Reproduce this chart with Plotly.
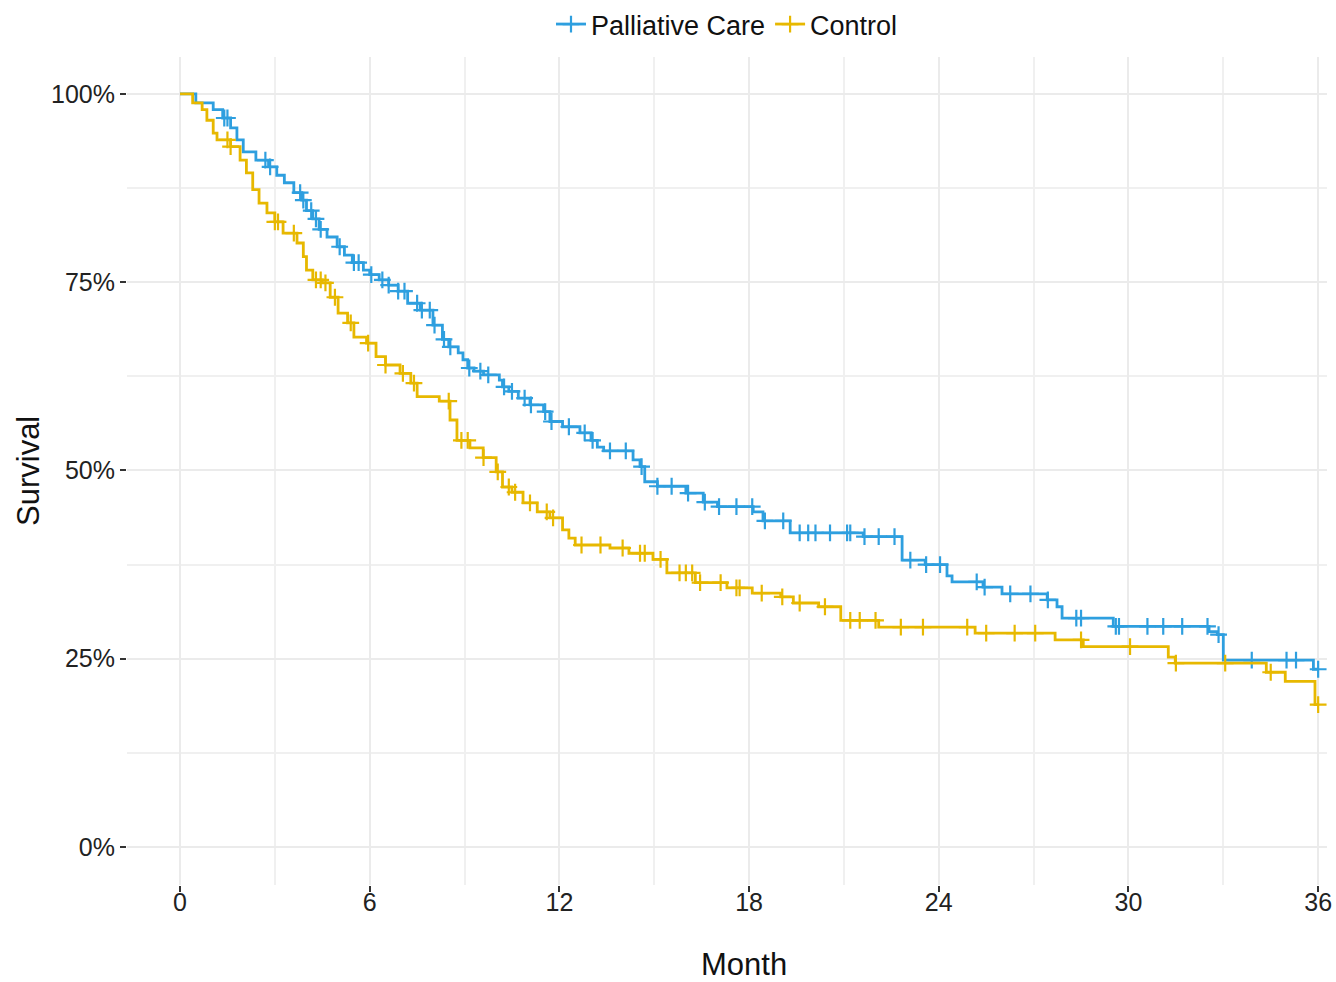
import plotly.graph_objects as go

# ---------------- data ----------------
groups = ["Palliative Care", "Control"]
colors = ["#2E9FDF", "#E7B800"]
t_end = 36.0

pc_time = [0, 0.5, 1.05, 1.35, 1.6, 1.8, 2.0, 2.4, 2.8, 3.06, 3.3, 3.6, 3.85, 4.0, 4.2,
           4.4, 4.65, 4.97, 5.2, 5.45, 5.8, 6.0, 6.3, 6.6, 6.9, 7.2, 7.6, 8.0, 8.3, 8.5,
           8.8, 8.95, 9.1, 9.3, 9.6, 10.1, 10.2, 10.4, 10.7, 11.07, 11.5, 11.7, 12.1, 12.65,
           13.0, 13.2, 13.4, 14.33, 14.55, 14.7, 15.1, 16.0, 16.55, 17.0, 18.13, 18.44,
           19.3, 21.61, 22.84, 23.57, 24.26, 24.42, 25.4, 26.0, 27.43, 27.74, 27.9, 29.52,
           32.55, 32.81, 33.0, 35.85]
pc_surv = [100, 98.8, 97.9, 96.8, 95.5, 93.9, 92.3, 91.2, 90.3, 89.2, 88.2, 86.9, 85.9, 84.5, 83.4,
           82.0, 81.0, 79.7, 78.6, 77.6, 76.6, 76.0, 75.3, 74.6, 73.8, 72.2, 71.3, 69.3, 67.4, 66.4,
           65.6, 64.7, 63.6, 63.2, 62.7, 62.0, 61.1, 60.5, 59.6, 58.7, 57.8, 56.5, 55.8, 55.0,
           54.0, 53.1, 52.6, 51.4, 50.5, 48.5, 47.9, 47.0, 45.8, 45.2, 44.5, 43.3,
           41.7, 41.2, 38.1, 37.5, 36.0, 35.2, 34.5, 33.6, 32.8, 31.9, 30.4, 29.3,
           28.6, 28.2, 24.8, 23.6]
pc_censor = [1.4, 1.5, 2.7, 2.85, 3.8, 3.9, 4.15, 4.3, 4.45, 5.05, 5.5, 5.65, 6.05, 6.4, 6.6,
             6.9, 7.1, 7.5, 7.65, 7.9, 8.05, 8.35, 8.55, 9.15, 9.5, 9.75, 10.25, 10.5, 10.9,
             11.1, 11.55, 11.75, 12.3, 12.8, 13.05, 13.6, 14.1, 14.6, 15.1, 15.55, 16.07,
             16.6, 17.05, 17.6, 18.1, 18.5, 19.08, 19.6, 19.87, 20.1, 20.56, 21.1, 21.2, 21.65,
             22.1, 22.6, 23.1, 23.6, 24.04, 25.2, 25.45, 26.26, 26.9, 27.45, 28.35, 28.5,
             29.6, 29.7, 30.6, 31.1, 31.7, 32.5, 32.85, 33.9, 35.0, 35.3, 36.0]

ct_time = [0, 0.4, 0.7, 0.85, 1.05, 1.17, 1.6, 1.9, 2.1, 2.3, 2.5, 2.75, 3.0, 3.26, 3.7,
           3.9, 4.0, 4.2, 4.5, 4.75, 5.0, 5.3, 5.5, 5.9, 6.2, 6.5, 6.96, 7.3, 7.5, 8.2,
           8.54, 8.76, 9.17, 9.59, 10.0, 10.2, 10.5, 10.85, 11.3, 11.7, 12.1, 12.3, 12.5,
           13.6, 14.2, 14.96, 15.4, 16.3, 17.3, 18.1, 19.0, 19.4, 20.2, 20.9, 22.1, 25.15,
           27.68, 28.57, 31.26, 31.48, 34.36, 34.96, 35.9]
ct_surv = [100, 98.8, 97.9, 96.5, 94.8, 93.9, 93.0, 91.2, 89.5, 87.3, 85.5, 84.2, 83.0, 81.5, 80.2,
           78.4, 76.6, 75.3, 74.9, 73.0, 70.9, 69.6, 67.7, 66.9, 65.1, 64.0, 62.9, 61.6, 59.8, 59.2,
           56.7, 54.0, 53.0, 51.7, 49.8, 47.8, 47.1, 45.7, 44.5, 43.7, 42.1, 41.0, 40.1,
           39.7, 39.0, 38.2, 36.4, 35.1, 34.4, 33.7, 33.2, 32.4, 31.9, 30.1, 29.2, 28.4,
           27.5, 26.6, 25.2, 24.4, 23.2, 22.0, 18.9]
ct_censor = [1.5, 1.6, 3.0, 3.1, 3.6, 4.3, 4.45, 4.6, 4.9, 5.4, 5.95, 6.5, 7.05, 7.4, 8.5,
             8.9, 9.1, 9.6, 10.05, 10.4, 10.6, 11.07, 11.6, 11.8, 12.7, 13.3, 14.0, 14.55,
             14.7, 15.2, 15.8, 16.0, 16.2, 16.45, 17.1, 17.6, 17.7, 18.4, 19.05, 19.6, 20.4,
             21.2, 21.5, 22.0, 22.8, 23.5, 24.9, 25.5, 26.4, 27.05, 28.5, 30.05, 31.5,
             33.06, 34.5, 36.0]

x_ticks = [0, 6, 12, 18, 24, 30, 36]
x_minor = [3, 9, 15, 21, 27, 33]
y_ticks = [0, 25, 50, 75, 100]
y_ticklabels = ["0%", "25%", "50%", "75%", "100%"]
y_minor = [12.5, 37.5, 62.5, 87.5]
x_title = "Month"
y_title = "Survival"


def surv_at(times, survs, t):
    val = survs[0]
    for ti, si in zip(times, survs):
        if ti <= t:
            val = si
        else:
            break
    return val


series = [(pc_time, pc_surv, pc_censor), (ct_time, ct_surv, ct_censor)]

fig = go.Figure()
for name, col, (tt, ss, cc) in zip(groups, colors, series):
    fig.add_trace(go.Scatter(
        x=tt + [t_end], y=ss + [ss[-1]], mode="lines", line=dict(color=col, width=2.8, shape="hv"),
        legendgroup=name, showlegend=False, hoverinfo="skip"))
    fig.add_trace(go.Scatter(
        x=cc, y=[surv_at(tt, ss, c) for c in cc], mode="markers",
        marker=dict(symbol="cross-thin", size=12, line=dict(color=col, width=2.2)),
        legendgroup=name, showlegend=False, hoverinfo="skip"))
    fig.add_trace(go.Scatter(
        x=[None], y=[None], mode="lines+markers", name=name,
        line=dict(color=col, width=2.8),
        marker=dict(symbol="cross-thin", size=12, line=dict(color=col, width=2.2)),
        legendgroup=name))

font_family = "Liberation Sans, Arial, sans-serif"
grid_major = "#EBEBEB"

fig.update_layout(
    width=1336, height=982,
    margin=dict(l=127, r=9, t=57, b=97),
    paper_bgcolor="white", plot_bgcolor="white",
    font=dict(family=font_family, color="#1a1a1a"),
    showlegend=True,
    legend=dict(orientation="h", x=0.5, xanchor="center", y=1.0, yref="container", yanchor="top",
                font=dict(size=27, color="#111111"), itemwidth=30, tracegroupgap=0,
                bgcolor="rgba(0,0,0,0)"),
    xaxis=dict(range=[-1.677, 36.28], tickmode="array", tickvals=x_ticks,
               ticktext=[str(v) for v in x_ticks], automargin=False,
               showgrid=True, gridcolor=grid_major, gridwidth=2.4, zeroline=False,
               ticks="outside", ticklen=6, tickwidth=2, tickcolor="#333333",
               tickfont=dict(size=25, color="#222222"), showline=False, ticklabelstandoff=-11,
               minor=dict(tickvals=x_minor, showgrid=True, gridcolor="#F0F0F0", gridwidth=1.5, ticks="")),
    yaxis=dict(range=[-5.05, 104.9], tickmode="array", tickvals=y_ticks, ticktext=y_ticklabels,
               showgrid=True, gridcolor=grid_major, gridwidth=2.4, zeroline=False,
               ticks="outside", ticklen=6, tickwidth=2, tickcolor="#333333",
               tickfont=dict(size=25, color="#222222"), showline=False, automargin=False,
               minor=dict(tickvals=y_minor, showgrid=True, gridcolor="#F0F0F0", gridwidth=1.5, ticks="")),
    annotations=[
        dict(text=x_title, xref="paper", yref="paper", x=0.514, y=0, yanchor="middle",
             yshift=-79, showarrow=False, font=dict(size=31, color="#111111")),
        dict(text=y_title, xref="paper", yref="paper", x=0, y=0.5, xanchor="center",
             xshift=-99, textangle=-90, showarrow=False, font=dict(size=31, color="#111111")),
    ],
)

fig.write_html("out.html")
